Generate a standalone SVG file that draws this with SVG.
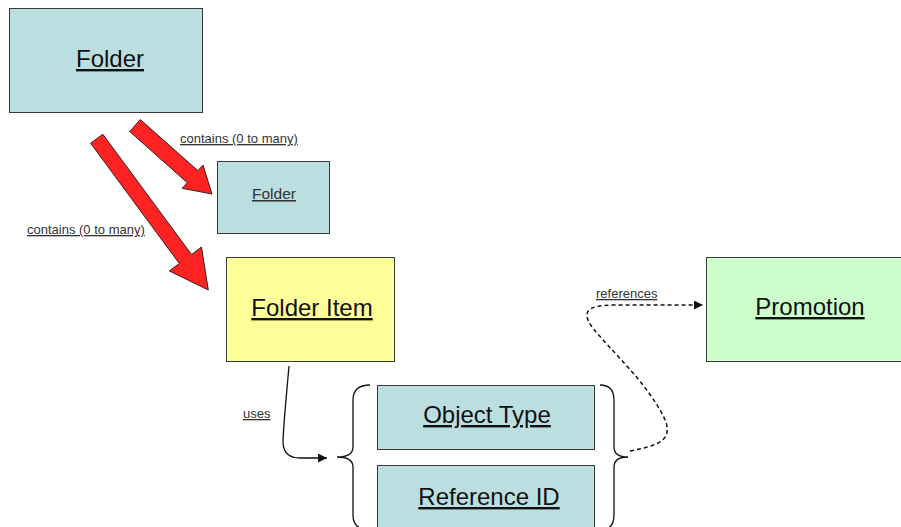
<svg xmlns="http://www.w3.org/2000/svg" width="901" height="527" viewBox="0 0 901 527">
<style>
.box{stroke:#3a3a3a;stroke-width:1}
.blue{fill:#bbdfe1}
.yellow{fill:#ffff99}
.green{fill:#ccffcc}
.t{font-family:"Liberation Sans",Arial,sans-serif;text-anchor:middle;text-decoration:underline;fill:#111}
.big{font-size:24px}
.mid{font-size:15.5px;fill:#333}
.lbl{font-family:"Liberation Sans",Arial,sans-serif;font-size:13px;text-decoration:underline;fill:#333}
.red{fill:#ff2222;stroke:#3a2020;stroke-width:1;stroke-linejoin:miter}
.line{fill:none;stroke:#111;stroke-width:1.3}
.dash{fill:none;stroke:#111;stroke-width:1.5;stroke-dasharray:4 3}
</style>
<defs>
<marker id="ah" viewBox="0 0 10 10" refX="10" refY="5" markerWidth="10" markerHeight="9" markerUnits="userSpaceOnUse" orient="auto">
<path d="M0,0 L10,5 L0,10 z" fill="#111"/>
</marker>
</defs>
<g id="connectors">
<polygon class="red" points="140.3,119.5 197.9,170.7 203,165.1 212,194 182.2,188.3 187.3,182.7 129.7,131.5"/>
<polygon class="red" points="102.8,134.2 191.5,254.5 201.5,247.1 208.3,290 169.3,270.9 179.3,263.5 90.6,143.2"/>
<path class="line" d="M289,366 C286,400 283,430 283,443 Q284,458 300,458 L327,458" marker-end="url(#ah)"/>
<path class="dash" d="M630,451 C655,446 672,442 666,422 C650,385 610,350 592,327 C580,310 590,305 615,305 L703,305" marker-end="url(#ah)"/>
<text class="lbl" x="180" y="143">contains (0 to many)</text>
<text class="lbl" x="27" y="234">contains (0 to many)</text>
<text class="lbl" x="243" y="418">uses</text>
<text class="lbl" x="596" y="298">references</text>
</g>
<g id="folder">
<rect class="box blue" x="9.5" y="8.5" width="193" height="104"/>
<text class="t big" x="110" y="67">Folder</text>
</g>
<g id="folder-small">
<rect class="box blue" x="217.5" y="161.5" width="112" height="72"/>
<text class="t mid" x="274" y="199">Folder</text>
</g>
<g id="folder-item">
<rect class="box yellow" x="226.5" y="257.5" width="168" height="104"/>
<text class="t big" x="312" y="316">Folder Item</text>
</g>
<g id="promotion">
<rect class="box green" x="706.5" y="257.5" width="200" height="104"/>
<text class="t big" x="810" y="315">Promotion</text>
</g>
<g id="braces">
<path class="line" d="M370,385 Q353,385 353,400 L353,447 Q353,457 337,457 Q353,457 353,467 L353,515 Q353,530 370,530"/>
<path class="line" d="M600,385 Q614,385 614,400 L614,447 Q614,457 628,457 Q614,457 614,467 L614,515 Q614,530 600,530"/>
</g>
<g id="object-type">
<rect class="box blue" x="377.5" y="385.5" width="217" height="64"/>
<text class="t big" x="487" y="423">Object Type</text>
</g>
<g id="reference-id">
<rect class="box blue" x="377.5" y="465.5" width="217" height="70"/>
<text class="t big" x="489" y="505">Reference ID</text>
</g>
</svg>
